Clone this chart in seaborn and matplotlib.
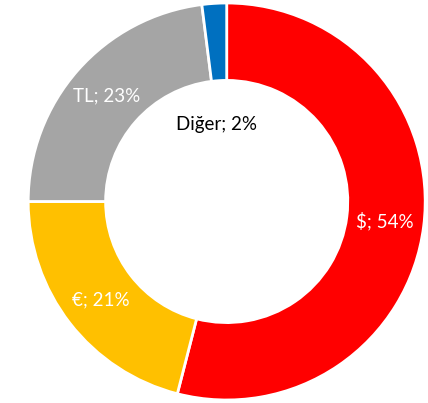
import matplotlib
matplotlib.use("Agg")
import matplotlib.pyplot as plt
import seaborn as sns
import numpy as np

categories = ["$", "€", "TL", "Diğer"]
values = [54, 21, 23, 2]
colors = ["#FF0000", "#FFC000", "#A5A5A5", "#0070C0"]
label_colors = ["white", "white", "white", "black"]

sns.set_theme(style="white")
plt.rcParams["font.family"] = ["Lato", "DejaVu Sans"]

fig = plt.figure(figsize=(4.28, 4.03), dpi=100)
ax = fig.add_axes([0, 0, 1, 1])

R = 1.0
W = 0.39
wedges, _ = ax.pie(values, colors=colors, startangle=90, counterclock=False,
                   radius=R, wedgeprops=dict(width=W, edgecolor="white", linewidth=2))

total = sum(values)
cum = 0
for i, (cat, v) in enumerate(zip(categories, values)):
    mid = (cum + v / 2) / total
    cum += v
    ang = np.deg2rad(90 - mid * 360)
    if cat == "Diğer":
        x, y = -0.05, 0.39
    else:
        r = R - W / 2
        x, y = r * np.cos(ang), r * np.sin(ang)
    ax.text(x, y, f"{cat}; {v}%", ha="center", va="center", fontsize=13.5,
            color=label_colors[i])

# center at pixel (226.7, 201.5), radius 198.5 px
cx, cy, s = 226.7, 201.5, 198.5
ax.set_xlim(-cx / s, (428 - cx) / s)
ax.set_ylim(-(403 - cy) / s, cy / s)
ax.set_aspect("auto")
ax.axis("off")
fig.savefig("out.png", dpi=100, facecolor="white")
